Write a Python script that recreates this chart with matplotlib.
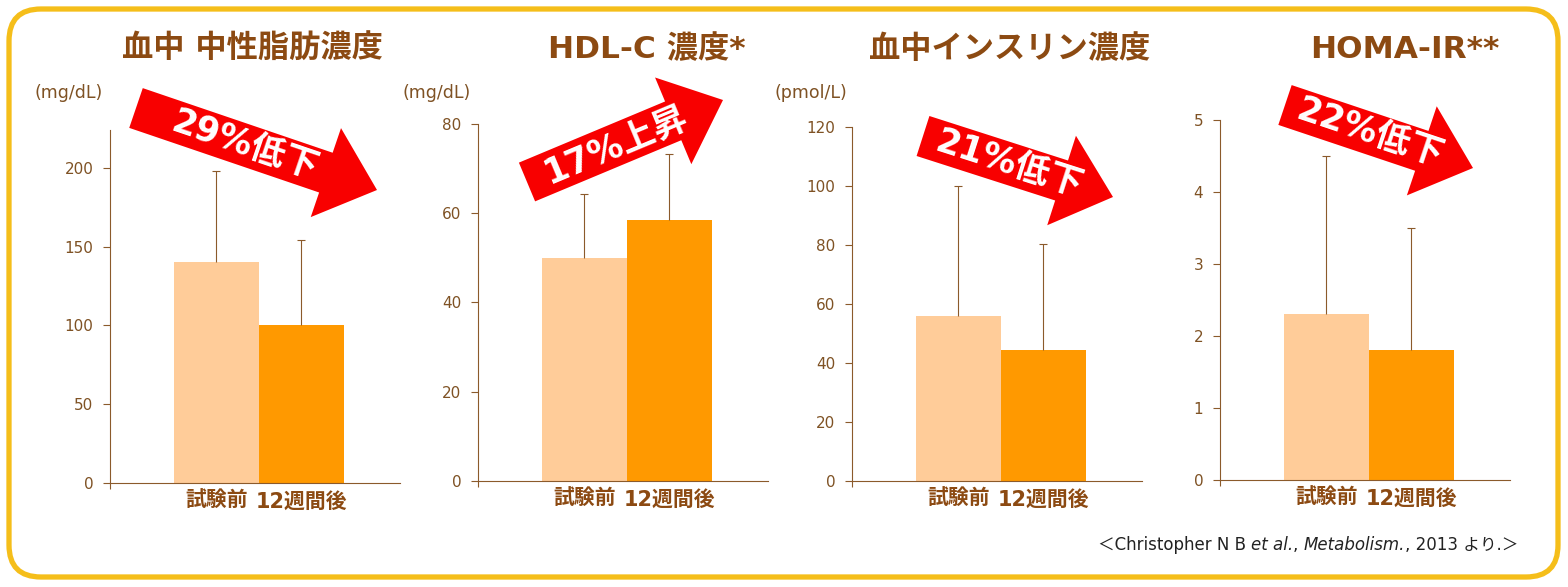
import math
import matplotlib
matplotlib.use('Agg')
import matplotlib.pyplot as plt
import matplotlib.patches as mpatches

plt.rcParams['font.family'] = ['DejaVu Sans', 'Noto Sans CJK JP']

W, H = 1568, 587

# datos de las cuatro graficas
titles = ['血中 中性脂肪濃度', 'HDL-C 濃度*', '血中インスリン濃度', 'HOMA-IR**']
units = ['(mg/dL)', '(mg/dL)', '(pmol/L)', '']
groups = ['試験前', '12週間後']
before = [140, 50, 56, 2.3]
after = [100, 58.5, 44.4, 1.8]
sd_before = [58, 14.3, 44, 2.2]
sd_after = [54, 14.8, 36, 1.7]
y_top = [224, 80, 120, 5]
y_step = [50, 20, 20, 1]
changes = ['29%低下', '17%上昇', '21%低下', '22%低下']

# colores
light = '#FFCC99'
dark = '#FF9900'
brown = '#8B5A2B'
title_brown = '#8C4A12'
red = '#F80000'
frame = '#F5BE1A'

# posiciones en pixeles (izquierda, abajo, arriba)
panel_left = [110, 478, 852, 1220]
panel_bottom = [483, 481, 481, 480]
panel_top = [130, 124, 127, 120]
panel_w = 290
title_x = [252, 647, 1010, 1405]
unit_x = [35, 403, 775, 0]
arrow_tail = [(136, 108), (527, 182), (923, 136), (1285, 105)]
arrow_tip = [(377, 190), (723, 100), (1113, 197), (1473, 168)]

fig = plt.figure(figsize=(W / 100, H / 100), dpi=100)

for i in range(4):
    ax = fig.add_axes([panel_left[i] / W, (H - panel_bottom[i]) / H,
                       panel_w / W, (panel_bottom[i] - panel_top[i]) / H])
    ax.bar([0, 1], [before[i], after[i]], width=1.0, color=[light, dark],
           edgecolor='none', zorder=2)
    eb = ax.errorbar([0, 1], [before[i], after[i]],
                     yerr=[[0, 0], [sd_before[i], sd_after[i]]],
                     fmt='none', ecolor=brown, elinewidth=0.8, capsize=3,
                     capthick=0.8, zorder=3)
    eb[1][0].set_visible(False)  # sin tapa abajo
    ax.set_xlim(-1.25, 2.16)
    ax.set_ylim(0, y_top[i])
    ticks = [k * y_step[i] for k in range(int(y_top[i] // y_step[i]) + 1)]
    ax.set_yticks(ticks)
    ax.set_xticks([0, 1])
    ax.set_xticklabels(groups, fontsize=15, fontweight='bold', color=title_brown)
    ax.set_xticks([-1.25], minor=True)
    ax.tick_params(axis='x', which='major', length=0, pad=6)
    ax.tick_params(axis='x', which='minor', length=4, color=brown, width=0.8)
    ax.tick_params(axis='y', direction='out', length=5, width=0.8, color=brown,
                   labelcolor='#7F5224', labelsize=11, pad=7)
    for s in ['top', 'right']:
        ax.spines[s].set_visible(False)
    for s in ['left', 'bottom']:
        ax.spines[s].set_color(brown)
        ax.spines[s].set_linewidth(0.8)
    ax.set_facecolor('none')

# capa superior en pixeles
top = fig.add_axes([0, 0, 1, 1], zorder=10)
top.set_xlim(0, W)
top.set_ylim(H, 0)
top.axis('off')
top.patch.set_visible(False)

border = mpatches.FancyBboxPatch((9, 9), W - 19, H - 19,
                                 boxstyle='round,pad=0,rounding_size=32',
                                 facecolor='none', edgecolor=frame, linewidth=3.8)
top.add_patch(border)

for i in range(4):
    top.text(title_x[i], 49, titles[i], ha='center', va='center',
             fontsize=22.5, fontweight='bold', color=title_brown)
    if units[i]:
        top.text(unit_x[i], 93, units[i], ha='left', va='center',
                 fontsize=12.5, color='#7F5224')
    (x0, y0), (x1, y1) = arrow_tail[i], arrow_tip[i]
    arr = mpatches.FancyArrow(x0, y0, x1 - x0, y1 - y0, width=42,
                              head_width=94, head_length=54,
                              length_includes_head=True, color=red,
                              linewidth=0)
    top.add_patch(arr)
    ang = math.degrees(math.atan2(-(y1 - y0), x1 - x0))
    tx = x0 + 0.45 * (x1 - x0)
    ty = y0 + 0.45 * (y1 - y0)
    top.text(tx, ty, changes[i], ha='center', va='center', rotation=ang,
             rotation_mode='anchor', fontsize=25, fontweight='bold',
             color='white')

# cita con partes en cursiva
pieces = [('＜Christopher N B ', 'normal'), ('et al.', 'italic'), (', ', 'normal'),
          ('Metabolism.', 'italic'), (', 2013 より.＞', 'normal')]
prev = top.text(1098, 545, pieces[0][0], ha='left', va='center',
                fontsize=12, color='#222222')
for txt, st in pieces[1:]:
    prev = top.annotate(txt, xy=(1, 0), xycoords=prev, ha='left', va='bottom',
                        fontsize=12, style=st, color='#222222')

fig.savefig('out.png', dpi=100)
